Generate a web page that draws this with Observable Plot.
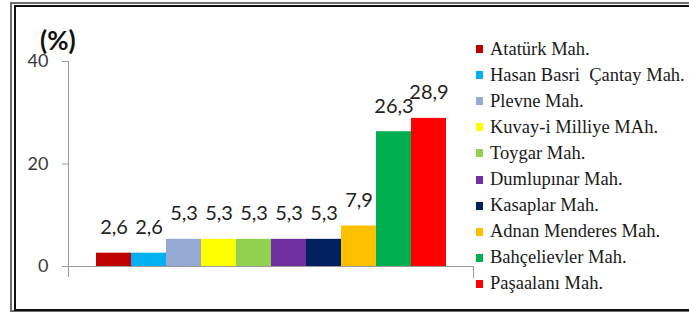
<!DOCTYPE html>
<html>
<head>
<meta charset="utf-8">
<script src="https://cdn.jsdelivr.net/npm/d3@7"></script>
<script src="https://cdn.jsdelivr.net/npm/@observablehq/plot@0.6"></script>
<style>
  html, body { margin: 0; padding: 0; background: #fff; }
  #wrap { position: relative; width: 689px; height: 313px; overflow: hidden; }
  #outer { position: absolute; left: 10px; top: 2px; width: 700px; height: 306px; border: 2px solid #6e6e6e; border-right: none; }
  #inner { position: absolute; left: 14px; top: 5px; width: 700px; height: 302px; border: 2px solid #111; border-right: none; }
  #chart { position: absolute; left: 0; top: 0; }
  #unit { position: absolute; left: 40px; top: 24px; font: bold 26px Lato, "Open Sans", sans-serif; color: #111; }
  #legend { position: absolute; left: 476px; top: 36px; font-family: "Liberation Serif", "DejaVu Serif", serif; font-size: 18.5px; color: #1a1a1a; }
  .item { height: 26.1px; display: flex; align-items: center; white-space: pre; }
  .sw { width: 7px; height: 8px; margin-right: 7px; flex: none; }
</style>
</head>
<body>
<div id="wrap">
  <div id="outer"></div>
  <div id="inner"></div>
  <div id="chart"></div>
  <div id="unit">(%)</div>
  <div id="legend"></div>
</div>
<script>
const categories = ["Atatürk Mah.", "Hasan Basri  Çantay Mah.", "Plevne Mah.", "Kuvay-i Milliye MAh.", "Toygar Mah.", "Dumlupınar Mah.", "Kasaplar Mah.", "Adnan Menderes Mah.", "Bahçelievler Mah.", "Paşaalanı Mah."];
const values = [2.6, 2.6, 5.3, 5.3, 5.3, 5.3, 5.3, 7.9, 26.3, 28.9];
const colors = ["#C00000", "#00B0F0", "#95A9D2", "#FFFF00", "#92D050", "#7030A0", "#002060", "#FFC000", "#00B050", "#FF0000"];
const yTicks = [0, 20, 40];

const data = categories.map((c, i) => ({name: c, value: values[i], color: colors[i]}));
const fmt = v => v.toFixed(1).replace(".", ",");

const chart = Plot.plot({
  width: 689,
  height: 313,
  marginLeft: 68,
  marginRight: 216,
  marginTop: 61,
  marginBottom: 47,
  style: {background: "transparent", overflow: "visible"},
  x: {domain: categories, paddingInner: 0, paddingOuter: 0.76, axis: null},
  y: {domain: [0, 40]},
  color: {domain: categories, range: colors},
  marks: [
    Plot.frame({anchor: "left", stroke: "#9a9a9a", insetBottom: -10}),
    Plot.frame({anchor: "right", stroke: "#9a9a9a", insetTop: 205, insetBottom: -11}),
    Plot.axisY({ticks: yTicks, tickSize: 6, tickPadding: 14, fontSize: 18, fontFamily: "Lato, 'Open Sans', sans-serif", color: "#3a3a3a", stroke: "#9a9a9a", label: null}),
    Plot.barY(data, {x: "name", y: "value", fill: "name", insetLeft: 0, insetRight: 0}),
    Plot.ruleY([0], {stroke: "#9a9a9a", insetLeft: -6}),
    Plot.text(data, {x: "name", y: "value", text: d => fmt(d.value), lineAnchor: "bottom", dy: -19, fontSize: 20, fontFamily: "Lato, 'Open Sans', sans-serif", fill: "#222"})
  ]
});
document.getElementById("chart").appendChild(chart);

const legend = document.getElementById("legend");
data.forEach(d => {
  const row = document.createElement("div");
  row.className = "item";
  const sw = document.createElement("span");
  sw.className = "sw";
  sw.style.background = d.color;
  const t = document.createElement("span");
  t.textContent = d.name;
  row.appendChild(sw);
  row.appendChild(t);
  legend.appendChild(row);
});
</script>
</body>
</html>
